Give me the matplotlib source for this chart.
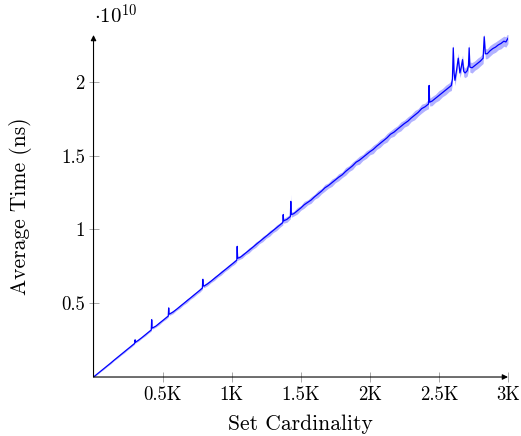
import numpy as np
import matplotlib
matplotlib.use("Agg")
import matplotlib.pyplot as plt

plt.rcParams['font.family'] = ['cmr10', 'DejaVu Serif']
plt.rcParams['mathtext.fontset'] = 'cm'
plt.rcParams['axes.formatter.use_mathtext'] = True

# set cardinality vs average time (units of 1e10 ns)
set_size = [0, 25, 50, 75, 100, 125, 150, 175, 200, 225, 250, 275, 298, 301, 304,
            325, 350, 375, 400, 418, 421, 424, 450, 475, 500, 525, 541, 544, 547,
            575, 600, 625, 650, 675, 700, 725, 750, 770, 788, 791, 794, 800,
            825, 850, 875, 900, 925, 950, 975, 1000, 1020, 1037, 1040, 1043,
            1060, 1075, 1100, 1125, 1150, 1175, 1200, 1225, 1250, 1275, 1300,
            1325, 1350, 1370, 1373, 1376, 1400, 1425, 1428, 1431, 1450, 1475,
            1500, 1525, 1550, 1575, 1600, 1625, 1650, 1675, 1700, 1725, 1750,
            1775, 1800, 1825, 1850, 1875, 1900, 1925, 1950, 1975, 2000, 2025,
            2050, 2075, 2100, 2125, 2150, 2175, 2200, 2225, 2250, 2275, 2300,
            2325, 2350, 2375, 2400, 2425, 2429, 2433, 2450, 2475, 2500, 2525,
            2550, 2575, 2590, 2598, 2604, 2610, 2616, 2628, 2640, 2652, 2662,
            2671, 2680, 2690, 2705, 2714, 2719, 2724, 2740, 2760, 2780, 2800,
            2820, 2828, 2836, 2850, 2870, 2890, 2910, 2930, 2950, 2970, 2985, 3000]

avg_time = [0.000, 0.019, 0.038, 0.057, 0.076, 0.095, 0.115, 0.134, 0.153, 0.172,
            0.191, 0.210, 0.228, 0.252, 0.236, 0.249, 0.267, 0.286, 0.305, 0.319,
            0.388, 0.331, 0.344, 0.363, 0.382, 0.401, 0.413, 0.468, 0.425, 0.440,
            0.458, 0.477, 0.496, 0.515, 0.534, 0.553, 0.572, 0.588, 0.603, 0.662,
            0.618, 0.616, 0.631, 0.649, 0.668, 0.687, 0.706, 0.725, 0.744, 0.763,
            0.778, 0.791, 0.885, 0.805, 0.810, 0.820, 0.839, 0.858, 0.877, 0.897,
            0.916, 0.935, 0.954, 0.973, 0.992, 1.011, 1.030, 1.046, 1.100, 1.058,
            1.068, 1.087, 1.190, 1.100, 1.107, 1.126, 1.145, 1.167, 1.183, 1.199,
            1.221, 1.240, 1.259, 1.282, 1.297, 1.316, 1.335, 1.354, 1.370, 1.393,
            1.412, 1.431, 1.455, 1.469, 1.488, 1.507, 1.526, 1.542, 1.564, 1.583,
            1.602, 1.621, 1.645, 1.659, 1.679, 1.698, 1.717, 1.733, 1.755, 1.774,
            1.793, 1.818, 1.831, 1.850, 1.975, 1.862, 1.869, 1.888, 1.907, 1.926,
            1.945, 1.964, 1.975, 2.020, 2.230, 2.060, 2.010, 2.080, 2.160, 2.060,
            2.100, 2.150, 2.070, 2.060, 2.075, 2.110, 2.230, 2.100, 2.095, 2.110,
            2.125, 2.140, 2.160, 2.305, 2.190, 2.190, 2.210, 2.225, 2.235, 2.250,
            2.260, 2.275, 2.270, 2.295]

# half width of the min/max band
spread = [0.002, 0.004, 0.003, 0.005, 0.004, 0.006, 0.004, 0.006, 0.005, 0.007,
          0.005, 0.007, 0.005, 0.012, 0.006, 0.007, 0.005, 0.008, 0.006, 0.008,
          0.020, 0.008, 0.007, 0.010, 0.007, 0.010, 0.008, 0.015, 0.009, 0.011,
          0.008, 0.012, 0.009, 0.013, 0.009, 0.012, 0.010, 0.013, 0.010, 0.020,
          0.012, 0.010, 0.013, 0.010, 0.014, 0.011, 0.015, 0.011, 0.014, 0.012,
          0.015, 0.011, 0.030, 0.015, 0.012, 0.016, 0.012, 0.017, 0.013, 0.018,
          0.013, 0.018, 0.014, 0.019, 0.014, 0.019, 0.015, 0.016, 0.030, 0.016,
          0.020, 0.015, 0.050, 0.018, 0.016, 0.022, 0.016, 0.023, 0.017, 0.022,
          0.017, 0.024, 0.018, 0.023, 0.018, 0.025, 0.019, 0.024, 0.019, 0.026,
          0.020, 0.025, 0.020, 0.027, 0.021, 0.026, 0.021, 0.028, 0.022, 0.027,
          0.022, 0.029, 0.023, 0.028, 0.023, 0.030, 0.024, 0.029, 0.024, 0.031,
          0.025, 0.030, 0.025, 0.032, 0.030, 0.026, 0.031, 0.027, 0.033, 0.028,
          0.032, 0.029, 0.034, 0.030, 0.035, 0.032, 0.036, 0.033, 0.035, 0.032,
          0.036, 0.033, 0.035, 0.032, 0.036, 0.033, 0.035, 0.034, 0.036, 0.032,
          0.035, 0.033, 0.036, 0.032, 0.035, 0.033, 0.036, 0.034, 0.035, 0.033,
          0.036, 0.034, 0.035, 0.036]

x_ticks = [500, 1000, 1500, 2000, 2500, 3000]
x_tick_labels = ['0.5K', '1K', '1.5K', '2K', '2.5K', '3K']
y_ticks = [0.5, 1, 1.5, 2]
y_tick_labels = ['0.5', '1', '1.5', '2']

x = np.array(set_size)
y = np.array(avg_time)
s = np.array(spread)

fig = plt.figure(figsize=(5.21, 4.36), dpi=100)
ax = fig.add_axes([0.1795, 0.1353, 0.7955, 0.7844])

ax.fill_between(x, y - s, y + s, color='#0000ff', alpha=0.3, lw=0)
ax.plot(x, y, color='#0000ff', lw=0.9)

ax.set_xlim(0, 3000)
ax.set_ylim(0, 2.317)

for sp in ax.spines.values():
    sp.set_visible(False)
ax.annotate('', xy=(1, 0), xytext=(0, 0), xycoords='axes fraction',
            arrowprops=dict(arrowstyle='-|>', lw=0.8, color='k',
                            mutation_scale=8, shrinkA=0, shrinkB=0))
ax.annotate('', xy=(0, 1), xytext=(0, 0), xycoords='axes fraction',
            arrowprops=dict(arrowstyle='-|>', lw=0.8, color='k',
                            mutation_scale=8, shrinkA=0, shrinkB=0))

ax.set_xticks(x_ticks)
ax.set_xticklabels(x_tick_labels)
ax.set_yticks(y_ticks)
ax.set_yticklabels(y_tick_labels)
ax.tick_params(direction='inout', length=6.5, width=0.6, color='#999999',
               labelsize=13.5, pad=3)

ax.set_xlabel('Set Cardinality', fontsize=15.5, labelpad=8)
ax.set_ylabel('Average Time (ns)', fontsize=15.5, labelpad=21)

fig.text(0.181, 0.946, r'$\cdot 10^{10}$', fontsize=15, ha='left', va='baseline')

fig.savefig('out.png', dpi=100)
